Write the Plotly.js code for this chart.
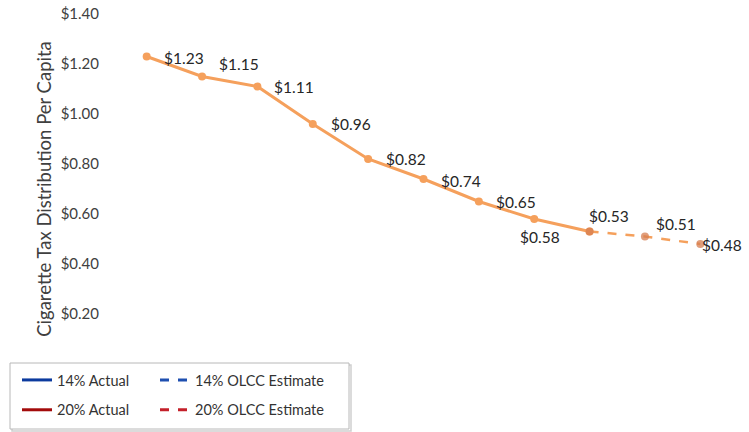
<!DOCTYPE html>
<html>
<head>
<meta charset="utf-8">
<script src="https://cdn.plot.ly/plotly-3.0.1.min.js"></script>
<style>html,body{margin:0;padding:0;background:#fff;}#chart{width:749px;height:432px;}</style>
</head>
<body>
<div id="chart"></div>
<script>
// Categories (x-axis, labels not shown in the original)
var years = ["2009","2010","2011","2012","2013","2014","2015","2016","2017","2018","2019"];
// Actual per-capita distribution (first 9 points)
var actualYears = ["2009","2010","2011","2012","2013","2014","2015","2016","2017"];
var actualValues = [1.23, 1.15, 1.11, 0.96, 0.82, 0.74, 0.65, 0.58, 0.53];
var actualLabels = ["$1.23","$1.15","$1.11","$0.96","$0.82","$0.74","$0.65","$0.58","$0.53"];
// OLCC estimate (dashed continuation)
var estimateYears = ["2017","2018","2019"];
var estimateValues = [0.53, 0.51, 0.48];
var estimateLabels = ["$0.51", "$0.48"]; // labels for 2018, 2019
// Y-axis ticks
var yTickVals = [0.2, 0.4, 0.6, 0.8, 1.0, 1.2, 1.4];
var yTickText = ["$0.20","$0.40","$0.60","$0.80","$1.00","$1.20","$1.40"];
// Legend entries
var legendNames = ["14% Actual", "20% Actual", "14% OLCC Estimate", "20% OLCC Estimate"];

// Styling: label offsets (px) relative to each point
var actualLabelShift = [[37,-1],[37,13],[37,0],[38,0],[38,0],[37,-2],[37,0],[6,-18],[19,16]];
var estimateLabelShift = [[31,13],[22,-1]];

var orange = "#F5A05C";
var fam = "Lato, 'Open Sans', sans-serif";
var labelFont = {family: fam, size: 15.5, color: "#262626"};

var traces = [
  {
    type: "scatter", mode: "lines+markers",
    x: actualYears, y: actualValues,
    line: {color: orange, width: 3},
    marker: {color: orange, size: 8},
    showlegend: false, cliponaxis: false, hoverinfo: "skip"
  },
  {
    type: "scatter", mode: "lines+markers",
    x: estimateYears, y: estimateValues,
    line: {color: orange, width: 2.5, dash: "dash"},
    marker: {color: "rgba(214,125,80,0.75)", size: 8},
    showlegend: false, cliponaxis: false, hoverinfo: "skip"
  },
  // legend-only entries (no visible data in the plot)
  {type: "scatter", mode: "lines", x: [null], y: [null], name: legendNames[0],
   line: {color: "#0B3A9E", width: 3}, legend: "legend", legendgroup: "a1"},
  {type: "scatter", mode: "lines", x: [null], y: [null], name: legendNames[1],
   line: {color: "#A30B0B", width: 3}, legend: "legend", legendgroup: "a2"},
  {type: "scatter", mode: "lines", x: [null], y: [null], name: legendNames[2],
   line: {color: "#1E4FB0", width: 3, dash: "dash"}, legend: "legend2", legendgroup: "b1"},
  {type: "scatter", mode: "lines", x: [null], y: [null], name: legendNames[3],
   line: {color: "#C4202A", width: 3, dash: "dash"}, legend: "legend2", legendgroup: "b2"}
];

// Data labels as annotations, positioned on the category index of each point
var annotations = [];
actualValues.forEach(function(v, i) {
  annotations.push({x: years.indexOf(actualYears[i]), y: v, xref: "x", yref: "y", text: actualLabels[i],
    showarrow: false, xanchor: "center", yanchor: "middle",
    xshift: actualLabelShift[i][0], yshift: actualLabelShift[i][1], font: labelFont});
});
estimateLabels.forEach(function(t, i) {
  annotations.push({x: years.indexOf(estimateYears[i + 1]), y: estimateValues[i + 1], xref: "x", yref: "y", text: t,
    showarrow: false, xanchor: "center", yanchor: "middle",
    xshift: estimateLabelShift[i][0], yshift: estimateLabelShift[i][1], font: labelFont});
});

var legendCommon = {
  xref: "paper", yref: "paper", xanchor: "left", yanchor: "top",
  orientation: "v", traceorder: "grouped", tracegroupgap: 8,
  bgcolor: "rgba(0,0,0,0)", borderwidth: 0,
  font: {family: fam, size: 14.5, color: "#333333"}
};

var layout = {
  width: 749, height: 432,
  margin: {l: 119, r: 21, t: 14, b: 68, autoexpand: false},
  paper_bgcolor: "#ffffff", plot_bgcolor: "#ffffff",
  xaxis: {
    type: "category", categoryarray: years, categoryorder: "array",
    range: [-0.5, 10.5], showticklabels: false, showgrid: false,
    zeroline: false, showline: false, ticks: ""
  },
  yaxis: {
    range: [0, 1.4], tickvals: yTickVals, ticktext: yTickText,
    showgrid: false, zeroline: false, showline: false,
    ticks: "outside", ticklen: 16, tickcolor: "rgba(0,0,0,0)",
    tickfont: {family: fam, size: 15, color: "#404040"},
    title: {text: "Cigarette Tax Distribution Per Capita", standoff: 4,
            font: {family: fam, size: 18.5, color: "#404040"}}
  },
  legend: Object.assign({}, legendCommon, {x: (17 - 119) / 609, y: 0}),
  legend2: Object.assign({}, legendCommon, {x: (155 - 119) / 609, y: 0}),
  annotations: annotations,
  shapes: [
    {type: "rect", xref: "paper", yref: "paper", layer: "above",
     x0: (12-119)/609, x1: (351-119)/609, y0: (364-431)/350, y1: (364-365)/350,
     line: {color: "#D0D0D0", width: 1.5}, fillcolor: "rgba(0,0,0,0)"},
    {type: "rect", xref: "paper", yref: "paper", layer: "above",
     x0: (10-119)/609, x1: (349-119)/609, y0: (364-429)/350, y1: (364-363)/350,
     line: {color: "#B8B8B8", width: 1}, fillcolor: "#ffffff"}
  ],
  showlegend: true
};

Plotly.newPlot("chart", traces, layout, {displayModeBar: false, staticPlot: true});
</script>
</body>
</html>
